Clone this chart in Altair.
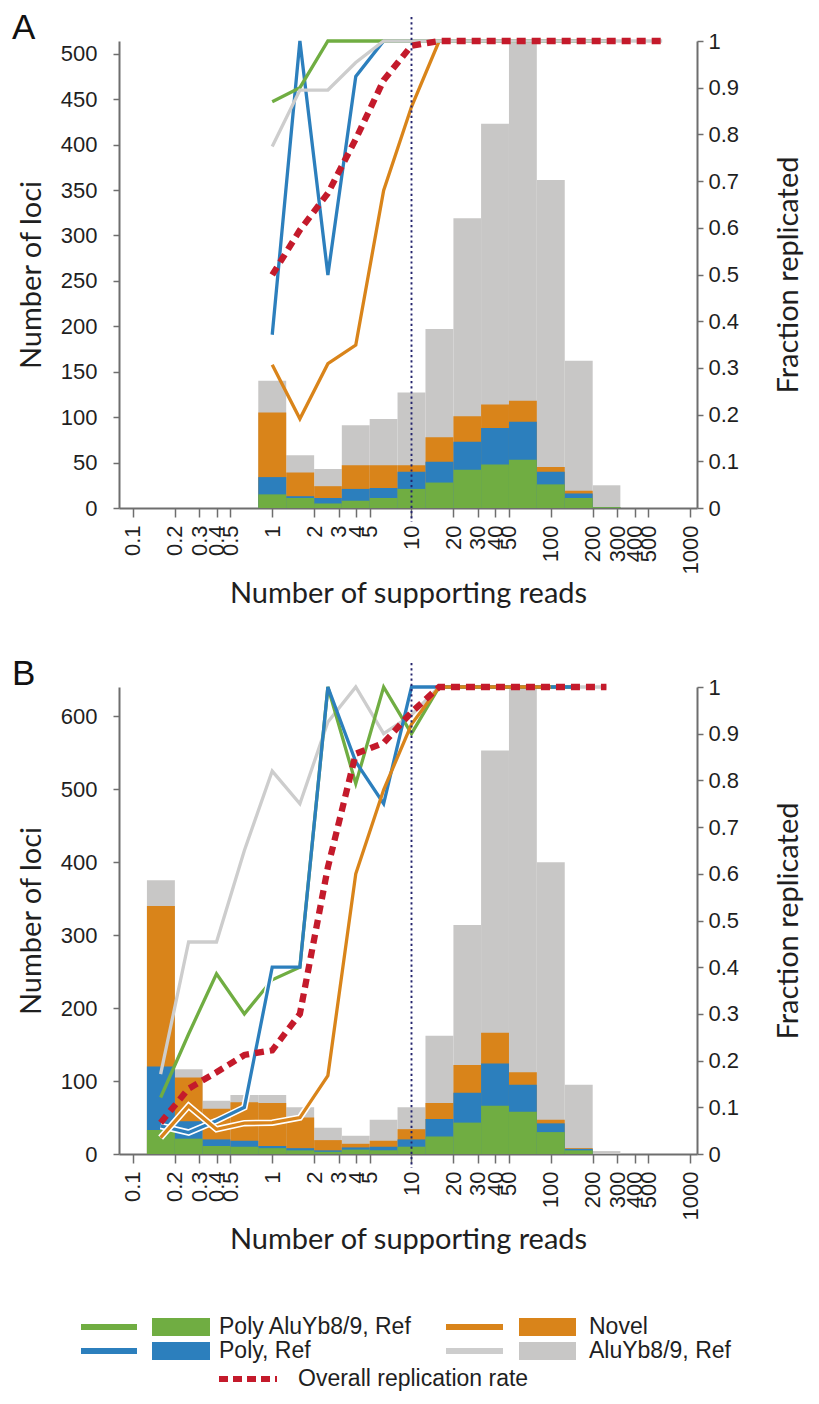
import altair as alt
import pandas as pd

# ---------------- data ----------------
XTICKS = [0.1, 0.2, 0.3, 0.4, 0.5, 1, 2, 3, 4, 5, 10, 20, 30, 40, 50,
          100, 200, 300, 400, 500, 1000]

# Panel A bins (log-spaced, 0.2 decade wide)
A_LO = [0.794, 1.26, 2.0, 3.16, 5.01, 7.94, 12.6, 20.0, 31.6, 50.1, 79.4, 126, 200]
A_HI = [1.26, 2.0, 3.16, 5.01, 7.94, 12.6, 20.0, 31.6, 50.1, 79.4, 126, 200, 316]
A_MID = [1, 1.58, 2.51, 3.98, 6.31, 10, 15.8, 25.1, 39.8, 63.1, 100, 158, 251, 398, 631]
A_ALU = [140, 58, 43, 91, 98, 127, 197, 319, 423, 514, 361, 162, 25]
A_NOVEL = [105, 39, 24, 47, 47, 47, 78, 101, 114, 118, 45, 19, 1]
A_POLY = [34, 13, 11, 21, 22, 40, 51, 73, 88, 95, 40, 16, 1]
A_POLYYB = [15, 11, 5, 8, 11, 21, 28, 42, 48, 53, 26, 11, 1]
A_F_ALU = [0.774, 0.895, 0.895, 0.954, 1, 1, 1, 1, 1, 1, 1, 1, 1, 1, 1]
A_F_POLYYB = [0.87, 0.90, 1, 1, 1, 1, 1, 1, 1, 1, 1, 1, 1]
A_F_POLY = [0.371, 1.0, 0.499, 0.924, 1, 1, 1, 1, 1, 1, 1, 1, 1]
A_F_NOVEL = [0.307, 0.191, 0.309, 0.349, 0.68, 0.859, 1, 1, 1, 1, 1, 1, 1]
A_F_ALL = [0.499, 0.595, 0.674, 0.79, 0.916, 0.99, 1, 1, 1, 1, 1, 1, 1, 1, 1]

# Panel B bins
B_LO = [0.126, 0.2, 0.316, 0.501, 0.794, 1.26, 2.0, 3.16, 5.01, 7.94, 12.6, 20.0,
        31.6, 50.1, 79.4, 126, 200]
B_HI = [0.2, 0.316, 0.501, 0.794, 1.26, 2.0, 3.16, 5.01, 7.94, 12.6, 20.0, 31.6,
        50.1, 79.4, 126, 200, 316]
B_MID = [0.158, 0.251, 0.398, 0.631, 1, 1.58, 2.51, 3.98, 6.31, 10, 15.8, 25.1,
         39.8, 63.1, 100, 158, 251]
B_ALU = [375, 116, 73, 81, 81, 64, 36, 25, 47, 64, 162, 314, 553, 640, 400, 95, 4]
B_NOVEL = [340, 105, 62, 71, 70, 50, 19, 14, 18, 34, 70, 122, 166, 112, 47, 8, 0]
B_POLY = [120, 45, 20, 18, 11, 8, 5, 9, 10, 20, 48, 84, 124, 95, 42, 7, 0]
B_POLYYB = [33, 21, 11, 10, 8, 5, 3, 6, 5, 10, 24, 43, 66, 58, 30, 5, 0]
B_F_ALU = [0.171, 0.454, 0.454, 0.65, 0.82, 0.75, 0.925, 1.0, 0.9, 0.94, 1, 1, 1, 1, 1, 1, 1]
B_F_POLYYB = [0.121, 0.257, 0.386, 0.30, 0.373, 0.40, 1.0, 0.793, 1.0, 0.90, 1, 1, 1, 1, 1, 1]
B_F_POLY = [0.06, 0.046, 0.071, 0.10, 0.40, 0.40, 1.0, 0.84, 0.75, 1.0, 1, 1, 1, 1, 1, 1]
B_F_NOVEL = [0.035, 0.103, 0.053, 0.066, 0.067, 0.078, 0.168, 0.60, 0.78, 0.92, 1, 1, 1, 1, 1]
B_F_ALL = [0.067, 0.14, 0.175, 0.212, 0.222, 0.30, 0.614, 0.857, 0.88, 0.946, 1, 1, 1, 1, 1, 1, 1]

CUTOFF = [10]
LEGEND_ROW1 = ["Poly AluYb8/9, Ref", "Novel"]
LEGEND_ROW2 = ["Poly, Ref", "AluYb8/9, Ref"]
LEGEND_ROW3 = ["Overall replication rate"]

# ---------------- style ----------------
W, H = 578, 467
XMIN, XMAX = 0.0794, 1122
FONT_NUM = "Liberation Sans"
FONT_TITLE = "Lato"
AX = "#6e6e6e"
TXT = "#1f1f1f"
C_ALU, C_ALU_L = "#c8c7c6", "#cdcdcd"
C_NOVEL = "#d9841a"
C_POLY = "#2c7fbd"
C_POLYYB = "#70ad42"
C_RED = "#c41a2b"
C_NAVY = "#24246e"
LW = 3.3
RED_W, RED_DASH = 6.3, [9, 6]

xscale = alt.Scale(type="log", domain=[XMIN, XMAX], nice=False)
xaxis = alt.Axis(values=XTICKS, format="~g", labelAngle=270, labelOverlap=False,
                 labelFlush=False, labelBound=False, tickSize=9, labelPadding=8,
                 title="Number of supporting reads", titlePadding=6)
fscale = alt.Scale(domain=[0, 1], nice=False)
faxis = alt.Axis(values=[0, 0.1, 0.2, 0.3, 0.4, 0.5, 0.6, 0.7, 0.8, 0.9, 1.0],
                 format="~g", orient="right", tickSize=6, labelPadding=5,
                 title="Fraction replicated", titleAngle=270, titleBaseline="top",
                 titlePadding=36)


def bar_layer(lo, hi, vals, color, ys, yaxis):
    df = pd.DataFrame({"lo": lo, "hi": hi, "n": vals})
    return alt.Chart(df).mark_rect(color=color, clip=True).encode(
        x=alt.X("lo:Q", scale=xscale, axis=xaxis),
        x2="hi:Q",
        y=alt.Y("n:Q", scale=ys, axis=yaxis),
        y2=alt.datum(0),
    )


def line_layer(mid, vals, color, width, dash=None):
    df = pd.DataFrame({"x": mid[:len(vals)], "f": vals})
    kw = dict(color=color, strokeWidth=width, strokeJoin="miter", clip=False)
    if dash:
        kw["strokeDash"] = dash
    return alt.Chart(df).mark_line(**kw).encode(
        x=alt.X("x:Q", scale=xscale, axis=xaxis),
        y=alt.Y("f:Q", scale=fscale, axis=faxis),
    )


def panel(letter, lo, hi, mid, bars, ymax, yticks, lines, extra=None):
    ys = alt.Scale(domain=[0, ymax], nice=False)
    yaxis = alt.Axis(values=yticks, orient="left", tickSize=6, labelPadding=16,
                     title="Number of loci", titlePadding=14)
    blayers = [bar_layer(lo, hi, v, c, ys, yaxis) for (v, c) in bars]
    rule = alt.Chart(pd.DataFrame({"v": CUTOFF})).mark_rule(
        color=C_NAVY, strokeWidth=1.9, strokeDash=[2.2, 3]).encode(
        x=alt.X("v:Q", scale=xscale, axis=xaxis),
        y=alt.value(-24), y2=alt.value(H + 14))
    lab = alt.Chart(pd.DataFrame({"t": [letter]})).mark_text(
        align="left", baseline="top", fontSize=35, font=FONT_NUM, color="#111").encode(
        text="t:N", x=alt.value(-107), y=alt.value(-30))
    llayers = lines + [rule, lab] + (extra or [])
    return alt.layer(alt.layer(*blayers), alt.layer(*llayers)).resolve_scale(
        y="independent").properties(width=W, height=H)


# ---------------- panel A ----------------
A_bars = [(A_ALU, C_ALU), (A_NOVEL, C_NOVEL), (A_POLY, C_POLY), (A_POLYYB, C_POLYYB)]
A_lines = [
    line_layer(A_MID, A_F_NOVEL, C_NOVEL, LW),
    line_layer(A_MID, A_F_POLY, C_POLY, LW),
    line_layer(A_MID, A_F_POLYYB, C_POLYYB, LW),
    line_layer(A_MID, A_F_ALU, C_ALU_L, LW),
    line_layer(A_MID, A_F_ALL, C_RED, RED_W, dash=RED_DASH),
]
pA = panel("A", A_LO, A_HI, A_MID, A_bars, 514,
           [0, 50, 100, 150, 200, 250, 300, 350, 400, 450, 500], A_lines)

# ---------------- panel B ----------------
B_bars = [(B_ALU, C_ALU), (B_NOVEL, C_NOVEL), (B_POLY, C_POLY), (B_POLYYB, C_POLYYB)]
B_lines = [
    line_layer(B_MID, B_F_ALU, C_ALU_L, LW),
    line_layer(B_MID, B_F_POLYYB, C_POLYYB, LW),
    line_layer(B_MID, B_F_POLY[:5], "white", 6.5),
    line_layer(B_MID, B_F_POLY, C_POLY, LW),
    line_layer(B_MID, B_F_NOVEL[:7], "white", 6.5),
    line_layer(B_MID, B_F_NOVEL, C_NOVEL, LW),
    line_layer(B_MID, B_F_ALL, C_RED, RED_W, dash=RED_DASH),
]


def leg_line(x1, x2, y, color, dash=None):
    kw = dict(color=color, strokeWidth=6)
    if dash:
        kw["strokeDash"] = dash
    return alt.Chart(pd.DataFrame({"k": [0]})).mark_rule(**kw).encode(
        x=alt.value(x1), x2=alt.value(x2), y=alt.value(y))


def leg_box(x1, x2, y1, y2, color):
    return alt.Chart(pd.DataFrame({"k": [0]})).mark_rect(color=color).encode(
        x=alt.value(x1), x2=alt.value(x2), y=alt.value(y1), y2=alt.value(y2))


def leg_text(x, y, txt):
    return alt.Chart(pd.DataFrame({"t": [txt]})).mark_text(
        align="left", baseline="middle", fontSize=23, font=FONT_NUM, color=TXT).encode(
        text="t:N", x=alt.value(x), y=alt.value(y))


R1, R2, R3 = 640, 664, 692
legend = [
    leg_line(-38, 18, R1, C_POLYYB), leg_box(33, 91, R1 - 9, R1 + 9, C_POLYYB),
    leg_text(100, R1, LEGEND_ROW1[0]),
    leg_line(-38, 18, R2, C_POLY), leg_box(33, 91, R2 - 9, R2 + 9, C_POLY),
    leg_text(100, R2, LEGEND_ROW2[0]),
    leg_line(327, 384, R1, C_NOVEL), leg_box(400, 457, R1 - 9, R1 + 9, C_NOVEL),
    leg_text(470, R1, LEGEND_ROW1[1]),
    leg_line(327, 384, R2, C_ALU_L), leg_box(400, 457, R2 - 9, R2 + 9, C_ALU),
    leg_text(470, R2, LEGEND_ROW2[1]),
    leg_line(100, 158, R3, C_RED, dash=[9, 5]),
    leg_text(179, R3, LEGEND_ROW3[0]),
]

pB = panel("B", B_LO, B_HI, B_MID, B_bars, 640,
           [0, 100, 200, 300, 400, 500, 600], B_lines, legend)

chart = alt.vconcat(pA, pB, spacing=179, bounds="flush",
                    padding={"left": 4, "top": 3, "right": 0, "bottom": 0}).configure_view(
    stroke=None).configure_axis(
    grid=False, domainColor=AX, domainWidth=2, tickColor=AX, tickWidth=1.5,
    labelFont=FONT_NUM, labelFontSize=22, labelColor=TXT,
    titleFont=FONT_TITLE, titleFontSize=29, titleFontWeight="normal", titleColor=TXT)

chart.save("out.html", embed_options={"renderer": "svg", "actions": False})
